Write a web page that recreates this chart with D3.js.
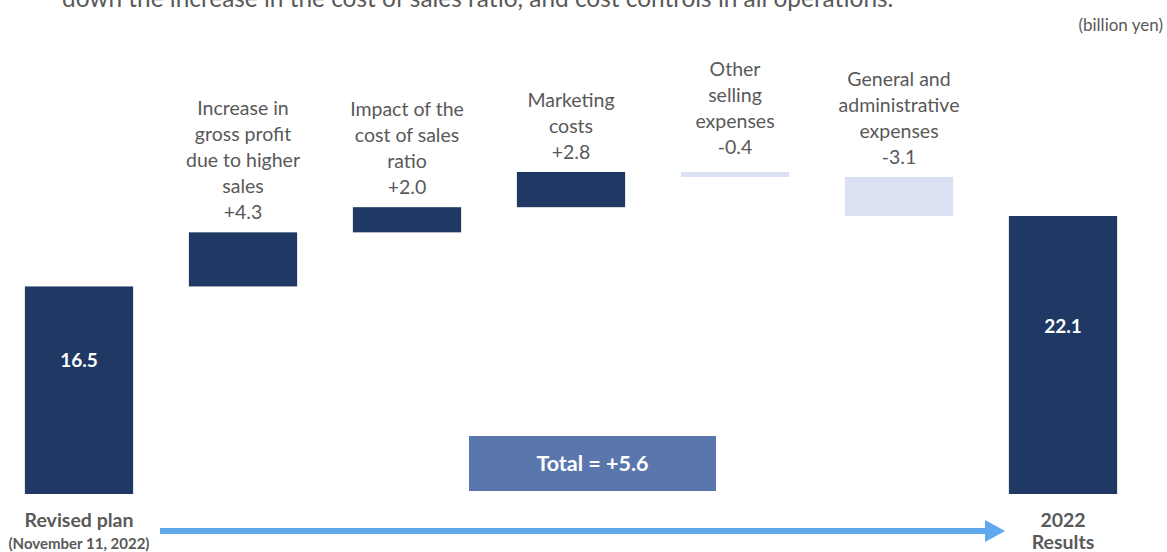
<!DOCTYPE html>
<html lang="en">
<head>
    <meta charset="UTF-8">
    <title>Operating profit waterfall</title>
    <script src="https://cdn.jsdelivr.net/npm/d3@7"></script>
    <style>
        body { margin: 0; background: #fff; }
        svg { display: block; }
        text { font-family: Lato, "Open Sans", sans-serif; }
    </style>
</head>
<body>
<script>
    // data: start, steps, end (billion yen)
    var data = [
        { key: 'plan', type: 'total', value: 16.5, labelAt: 10.1 },
        { key: 'sales', type: 'up', value: 4.3, lines: ['Increase in', 'gross profit', 'due to higher', 'sales', '+4.3'] },
        { key: 'ratio', type: 'up', value: 2.0, lines: ['Impact of the', 'cost of sales', 'ratio', '+2.0'] },
        { key: 'marketing', type: 'up', value: 2.8, lines: ['Marketing', 'costs', '+2.8'] },
        { key: 'selling', type: 'down', value: -0.4, lines: ['Other', 'selling', 'expenses', '-0.4'], lift: 5 },
        { key: 'ga', type: 'down', value: -3.1, lines: ['General and', 'administrative', 'expenses', '-3.1'] },
        { key: 'results', type: 'total', value: 22.1, labelAt: 12.8 }
    ];

    var width = 1167;
    var height = 552;

    // running sum -> start/end of each bar
    var run = 0;
    data.forEach(function (d) {
        if (d.type == 'total') {
            d.y0 = 0; d.y1 = d.value; run = d.value;
        } else {
            d.y0 = run; run = run + d.value; d.y1 = run;
        }
    });

    var x = d3.scaleBand()
        .domain(data.map(function (d) { return d.key; }))
        .range([-3, 1145])
        .paddingInner(0.34)
        .paddingOuter(0.17);

    var y = d3.scaleLinear()
        .domain([0, 22.1])
        .range([494, 216]);

    var color = { total: '#1f3864', up: '#1f3864', down: '#d9e1f2' };

    var svg = d3.select('body').append('svg')
        .attr('width', width)
        .attr('height', height);

    // cut-off sentence at the top
    svg.append('text')
        .attr('x', 62).attr('y', 7)
        .attr('fill', '#595959')
        .style('font-size', '24.4px')
        .text('down the increase in the cost of sales ratio, and cost controls in all operations.');

    svg.append('text')
        .attr('x', 1163).attr('y', 31)
        .attr('text-anchor', 'end')
        .attr('fill', '#595959')
        .style('font-size', '17px')
        .text('(billion yen)');

    // bars
    svg.selectAll('.bar')
        .data(data)
        .enter()
        .append('rect')
        .attr('class', 'bar')
        .attr('x', function (d) { return x(d.key); })
        .attr('width', x.bandwidth())
        .attr('y', function (d) { return y(Math.max(d.y0, d.y1)); })
        .attr('height', function (d) { return Math.max(Math.abs(y(d.y0) - y(d.y1)), 3); })
        .attr('fill', function (d) { return color[d.type]; });

    // values inside start / end bars
    svg.selectAll('.val')
        .data(data.filter(function (d) { return d.type == 'total'; }))
        .enter()
        .append('text')
        .attr('x', function (d) { return x(d.key) + x.bandwidth() / 2; })
        .attr('y', function (d) { return y(d.labelAt); })
        .attr('text-anchor', 'middle')
        .attr('fill', '#fff')
        .style('font-size', '19px')
        .style('font-weight', 'bold')
        .text(function (d) { return d.value.toFixed(1); });

    // step labels above bars, last line sits 13px over the bar top
    var lh = 26;
    data.filter(function (d) { return d.lines; }).forEach(function (d) {
        var top = y(Math.max(d.y0, d.y1)) - 13 - (d.lift || 0);
        var t = svg.append('text')
            .attr('text-anchor', 'middle')
            .attr('fill', '#595959')
            .style('font-size', '19.5px');
        d.lines.forEach(function (s, i) {
            t.append('tspan')
                .attr('x', x(d.key) + x.bandwidth() / 2)
                .attr('y', top - (d.lines.length - 1 - i) * lh)
                .text(s);
        });
    });

    // total box between the steps
    svg.append('rect')
        .attr('x', 469).attr('y', 436)
        .attr('width', 247).attr('height', 55)
        .attr('fill', '#5a77ad');
    svg.append('text')
        .attr('x', 469 + 247 / 2).attr('y', 471)
        .attr('text-anchor', 'middle')
        .attr('fill', '#fff')
        .style('font-size', '21.5px')
        .style('font-weight', 'bold')
        .text('Total = +5.6');

    // bottom labels
    var cx0 = x('plan') + x.bandwidth() / 2;
    var cx1 = x('results') + x.bandwidth() / 2;
    var bottom = [
        { x: cx0, y: 527, s: 'Revised plan', size: 19.5 },
        { x: cx0, y: 549, s: '(November 11, 2022)', size: 15 },
        { x: cx1, y: 527, s: '2022', size: 19.5 },
        { x: cx1, y: 549, s: 'Results', size: 19.5 }
    ];
    svg.selectAll('.cat')
        .data(bottom)
        .enter()
        .append('text')
        .attr('x', function (d) { return d.x; })
        .attr('y', function (d) { return d.y; })
        .attr('text-anchor', 'middle')
        .attr('fill', '#595959')
        .style('font-size', function (d) { return d.size + 'px'; })
        .style('font-weight', 'bold')
        .text(function (d) { return d.s; });

    // arrow
    svg.append('line')
        .attr('x1', 160).attr('y1', 531)
        .attr('x2', 988).attr('y2', 531)
        .attr('stroke', '#5fa8ec')
        .attr('stroke-width', 6);
    svg.append('path')
        .attr('d', 'M985,520 L1005,531 L985,542 Z')
        .attr('fill', '#5fa8ec');
</script>
</body>
</html>
